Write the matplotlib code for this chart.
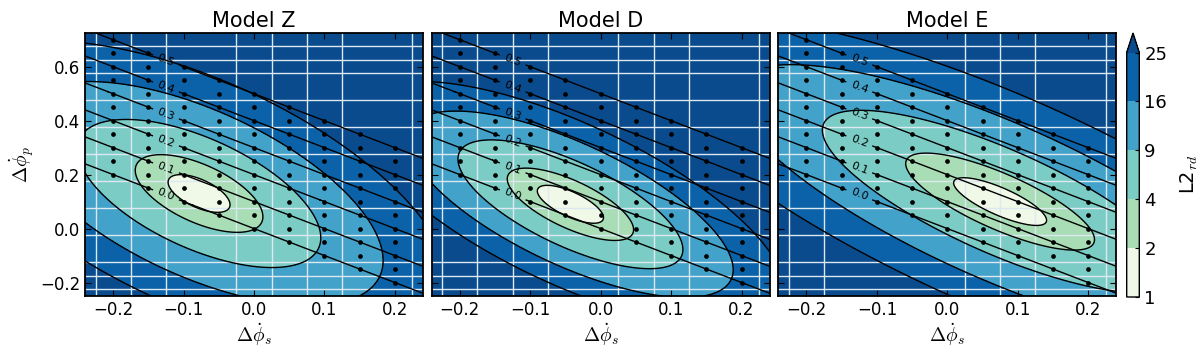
import numpy as np
import matplotlib
matplotlib.use('Agg')
import matplotlib.pyplot as plt
from matplotlib.colors import ListedColormap, BoundaryNorm

plt.rcParams['font.family'] = ['DejaVu Sans']
plt.rcParams['mathtext.fontset'] = 'cm'

# panels
titles = ['Model Z', 'Model D', 'Model E']

# shape of the L2 valley in each model (estimated from the figure)
min_s = [-0.078, -0.043, 0.075]     # position of the minimum, dphi_s
min_p = [0.130, 0.090, 0.100]       # position of the minimum, dphi_p
len_s = [0.044, 0.047, 0.066]       # scale along the valley
wid_p = [0.056, 0.050, 0.055]       # scale across the valley
tilt = [0.95, 1.05, 1.05]           # valley slope
power = [1.52, 1.70, 1.55]          # growth away from the minimum
l2_floor = 1.0

# colour scale
l2_levels = [1, 2, 4, 9, 16, 25]
l2_colors = ['#f0f9e8', '#a8ddb5', '#7bccc4', '#43a2ca', '#0b62a8']
l2_over = '#0a4b8e'

# sampled runs: dphi_s columns and total offset dphi_s + dphi_p
sample_s = [-0.2, -0.15, -0.1, -0.05, 0.0, 0.05, 0.1, 0.15, 0.2]
sample_sum = [0.0, 0.05, 0.1, 0.15, 0.2, 0.25, 0.3, 0.35, 0.4, 0.45, 0.5]
sum_levels = [0.0, 0.1, 0.2, 0.3, 0.4, 0.5]

# light grid lines seen in each panel
grid_v = [[-0.225, -0.175, -0.125, -0.025, 0.025, 0.075, 0.125, 0.225],
          [-0.225, -0.175, -0.125, -0.075, 0.025, 0.075, 0.125, 0.225],
          [-0.225, -0.175, 0.025, 0.075, 0.125, 0.225]]
grid_h = [0.675, 0.625, 0.575, 0.475, 0.375, 0.275, 0.175, 0.075,
          -0.025, -0.125, -0.175, -0.225]

xlim = (-0.24, 0.24)
ylim = (-0.25, 0.725)

cmap = ListedColormap(l2_colors)
cmap.set_over(l2_over)
norm = BoundaryNorm(l2_levels, cmap.N)

fig = plt.figure(figsize=(12, 3.52), dpi=100)
lefts = [85 / 1200, 431.7 / 1200, 778.3 / 1200]

xs = np.linspace(xlim[0], xlim[1], 400)
ys = np.linspace(ylim[0], ylim[1], 400)
X, Y = np.meshgrid(xs, ys)
S, V = np.meshgrid(sample_s, sample_sum)

for i, title in enumerate(titles):
    ax = fig.add_axes([lefts[i], 56 / 352, 338 / 1200, 263 / 352])

    ds = X - min_s[i]
    dp = Y - min_p[i]
    t = dp + tilt[i] * ds
    q = (ds / len_s[i]) ** 2 + (t / wid_p[i]) ** 2
    L2 = l2_floor + q ** (power[i] / 2)

    cf = ax.contourf(X, Y, L2, levels=l2_levels, cmap=cmap, norm=norm,
                     extend='max', zorder=1)
    ax.contour(X, Y, L2, levels=l2_levels[1:], colors='k',
               linewidths=1, zorder=3)

    for v in grid_v[i]:
        ax.axvline(v, color='#dce9f2', lw=1, zorder=2)
    for h in grid_h:
        ax.axhline(h, color='#dce9f2', lw=1, zorder=2)

    cs = ax.contour(X, Y, X + Y, levels=sum_levels, colors='k',
                    linewidths=1, zorder=3)
    labels = ax.clabel(cs, fmt='%.1f', fontsize=8, inline=True,
                       manual=[(-0.125, v + 0.125) for v in sum_levels])
    for lab in labels:
        lab.set_zorder(6)

    ax.plot(S.ravel(), (V - S).ravel(), 'o', color='k', ms=3.4,
            mec='none', zorder=4)

    ax.set_xlim(xlim)
    ax.set_ylim(ylim)
    ax.set_xticks([-0.2, -0.1, 0.0, 0.1, 0.2])
    ax.set_yticks([-0.2, 0.0, 0.2, 0.4, 0.6])
    ax.tick_params(direction='in', top=True, right=True, length=4,
                   labelsize=12)
    if i > 0:
        ax.set_yticklabels([])
    else:
        ax.set_ylabel(r'$\Delta\dot{\phi}_p$', fontsize=14, labelpad=2)
    ax.set_xlabel(r'$\Delta\dot{\phi}_s$', fontsize=14, labelpad=2)
    ax.set_title(title, fontsize=15, pad=4)
    for sp in ax.spines.values():
        sp.set_linewidth(1.3)

cax = fig.add_axes([1126.7 / 1200, 55 / 352, 12.6 / 1200, 264 / 352])
cb = fig.colorbar(cf, cax=cax, ticks=l2_levels, extendfrac=0.08)
cb.ax.tick_params(labelsize=13, direction='in', length=3)
cb.set_label('L2$_{rd}$', fontsize=14, labelpad=8)
cb.outline.set_linewidth(1.0)

fig.savefig('out.png', dpi=100)
